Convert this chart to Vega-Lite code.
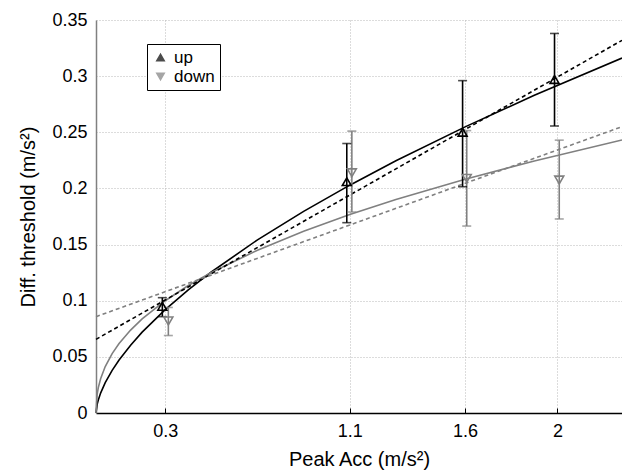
{
  "$schema": "https://vega.github.io/schema/vega-lite/v6.json",
  "width": 526,
  "height": 393,
  "autosize": "none",
  "padding": {"left": 96, "top": 20, "right": 0, "bottom": 63},
  "background": "white",
  "config": {
    "view": {"stroke": null},
    "font": "Liberation Sans",
    "axis": {
      "labelFont": "Liberation Sans",
      "titleFont": "Liberation Sans",
      "labelColor": "black",
      "titleColor": "black",
      "titleFontWeight": "normal",
      "gridColor": "#b8b8b8",
      "gridDash": [1, 2],
      "gridWidth": 1
    },
    "legend": {"labelFont": "Liberation Sans"}
  },
  "datasets": {
    "pts": [
      {"acc": 0.2875, "thr": 0.095, "lo": 0.0858, "hi": 0.1027, "dir": "up"},
      {"acc": 1.087, "thr": 0.206, "lo": 0.1695, "hi": 0.240, "dir": "up"},
      {"acc": 1.589, "thr": 0.250, "lo": 0.2015, "hi": 0.296, "dir": "up"},
      {"acc": 1.9875, "thr": 0.297, "lo": 0.2556, "hi": 0.338, "dir": "up"},
      {"acc": 0.3136, "thr": 0.082, "lo": 0.069, "hi": 0.094, "dir": "down"},
      {"acc": 1.109, "thr": 0.214, "lo": 0.179, "hi": 0.251, "dir": "down"},
      {"acc": 1.607, "thr": 0.209, "lo": 0.1665, "hi": 0.2515, "dir": "down"},
      {"acc": 2.008, "thr": 0.2075, "lo": 0.1728, "hi": 0.243, "dir": "down"}
    ],
    "fits": [
      {"fit": "up_pow", "acc": 0, "thr": 0},
      {"fit": "up_pow", "acc": 0.005, "thr": 0.00764},
      {"fit": "up_pow", "acc": 0.01, "thr": 0.01164},
      {"fit": "up_pow", "acc": 0.02, "thr": 0.01775},
      {"fit": "up_pow", "acc": 0.04, "thr": 0.02706},
      {"fit": "up_pow", "acc": 0.07, "thr": 0.03801},
      {"fit": "up_pow", "acc": 0.1, "thr": 0.04723},
      {"fit": "up_pow", "acc": 0.15, "thr": 0.06042},
      {"fit": "up_pow", "acc": 0.2, "thr": 0.07199},
      {"fit": "up_pow", "acc": 0.3, "thr": 0.09211},
      {"fit": "up_pow", "acc": 0.4, "thr": 0.1097},
      {"fit": "up_pow", "acc": 0.5, "thr": 0.1256},
      {"fit": "up_pow", "acc": 0.7, "thr": 0.1542},
      {"fit": "up_pow", "acc": 0.9, "thr": 0.1796},
      {"fit": "up_pow", "acc": 1.1, "thr": 0.2029},
      {"fit": "up_pow", "acc": 1.3, "thr": 0.2246},
      {"fit": "up_pow", "acc": 1.6, "thr": 0.2548},
      {"fit": "up_pow", "acc": 1.9, "thr": 0.2829},
      {"fit": "up_pow", "acc": 2.28, "thr": 0.3161},
      {"fit": "down_pow", "acc": 0, "thr": 0},
      {"fit": "down_pow", "acc": 0.005, "thr": 0.01665},
      {"fit": "down_pow", "acc": 0.01, "thr": 0.02256},
      {"fit": "down_pow", "acc": 0.02, "thr": 0.03055},
      {"fit": "down_pow", "acc": 0.04, "thr": 0.04139},
      {"fit": "down_pow", "acc": 0.07, "thr": 0.05289},
      {"fit": "down_pow", "acc": 0.1, "thr": 0.06182},
      {"fit": "down_pow", "acc": 0.15, "thr": 0.07385},
      {"fit": "down_pow", "acc": 0.2, "thr": 0.08378},
      {"fit": "down_pow", "acc": 0.3, "thr": 0.1000},
      {"fit": "down_pow", "acc": 0.4, "thr": 0.1135},
      {"fit": "down_pow", "acc": 0.5, "thr": 0.1251},
      {"fit": "down_pow", "acc": 0.7, "thr": 0.1450},
      {"fit": "down_pow", "acc": 0.9, "thr": 0.1619},
      {"fit": "down_pow", "acc": 1.1, "thr": 0.1767},
      {"fit": "down_pow", "acc": 1.3, "thr": 0.1901},
      {"fit": "down_pow", "acc": 1.6, "thr": 0.2082},
      {"fit": "down_pow", "acc": 1.9, "thr": 0.2245},
      {"fit": "down_pow", "acc": 2.28, "thr": 0.2432},
      {"fit": "up_lin", "acc": 0, "thr": 0.0656},
      {"fit": "up_lin", "acc": 2.28, "thr": 0.3319},
      {"fit": "down_lin", "acc": 0, "thr": 0.0858},
      {"fit": "down_lin", "acc": 2.28, "thr": 0.2550}
    ]
  },
  "encoding": {
    "x": {
      "field": "acc", "type": "quantitative",
      "scale": {"domain": [0, 2.28], "nice": false, "zero": false},
      "axis": {
        "title": "Peak Acc (m/s²)",
        "values": [0.3, 1.1, 1.6, 2],
        "format": "~g",
        "labelFontSize": 18,
        "titleFontSize": 20,
        "domainColor": "black",
        "domainWidth": 1.5,
        "tickColor": "black",
        "tickSize": -5,
        "labelPadding": 14,
        "titlePadding": 9,
        "grid": true
      }
    },
    "y": {
      "field": "thr", "type": "quantitative",
      "scale": {"domain": [0, 0.35], "nice": false},
      "axis": {
        "title": "Diff. threshold (m/s²)",
        "values": [0, 0.05, 0.1, 0.15, 0.2, 0.25, 0.3, 0.35],
        "format": "~g",
        "labelFontSize": 18,
        "titleFontSize": 20,
        "domainColor": "#808080",
        "domainWidth": 1.5,
        "ticks": false,
        "labelPadding": 9,
        "titlePadding": 13,
        "grid": true
      }
    }
  },
  "layer": [
    {
      "data": {"name": "fits"},
      "transform": [{"filter": "datum.fit == 'up_pow'"}],
      "mark": {"type": "line", "color": "black", "strokeWidth": 1.6}
    },
    {
      "data": {"name": "fits"},
      "transform": [{"filter": "datum.fit == 'down_pow'"}],
      "mark": {"type": "line", "color": "#808080", "strokeWidth": 1.6}
    },
    {
      "data": {"name": "fits"},
      "transform": [{"filter": "datum.fit == 'up_lin'"}],
      "mark": {"type": "line", "color": "black", "strokeWidth": 1.6, "strokeDash": [4, 3]}
    },
    {
      "data": {"name": "fits"},
      "transform": [{"filter": "datum.fit == 'down_lin'"}],
      "mark": {"type": "line", "color": "#808080", "strokeWidth": 1.6, "strokeDash": [4, 3]}
    },
    {
      "data": {"name": "pts"},
      "mark": {"type": "rule", "strokeWidth": 1.6},
      "encoding": {
        "y": {"field": "lo", "type": "quantitative"},
        "y2": {"field": "hi"},
        "color": {"field": "dir", "type": "nominal", "scale": {"domain": ["up", "down"], "range": ["black", "#808080"]}}
      }
    },
    {
      "data": {"name": "pts"},
      "mark": {"type": "tick", "orient": "horizontal", "size": 9, "thickness": 1.6},
      "encoding": {
        "y": {"field": "lo", "type": "quantitative"},
        "color": {"field": "dir", "type": "nominal"}
      }
    },
    {
      "data": {"name": "pts"},
      "mark": {"type": "tick", "orient": "horizontal", "size": 9, "thickness": 1.6},
      "encoding": {
        "y": {"field": "hi", "type": "quantitative"},
        "color": {"field": "dir", "type": "nominal"}
      }
    },
    {
      "data": {"name": "pts"},
      "mark": {"type": "point", "filled": false, "strokeWidth": 1.6, "size": 80, "opacity": 1},
      "encoding": {
        "color": {
          "field": "dir", "type": "nominal",
          "legend": {
            "title": null, "orient": "none", "legendX": 51, "legendY": 24,
            "strokeColor": "black", "fillColor": "white", "padding": 5,
            "labelFontSize": 17, "labelColor": "black", "symbolSize": 55,
            "symbolStrokeWidth": 1.5, "rowPadding": 1, "labelOffset": 5,
            "encode": {"symbols": {"update": {"fill": {"value": "transparent"}}}}
          }
        },
        "shape": {
          "field": "dir", "type": "nominal",
          "scale": {"domain": ["up", "down"], "range": ["triangle-up", "triangle-down"]},
          "legend": {
            "title": null, "orient": "none", "legendX": 51, "legendY": 24,
            "strokeColor": "black", "fillColor": "white", "padding": 5,
            "labelFontSize": 17, "labelColor": "black", "symbolSize": 55,
            "symbolStrokeWidth": 1.5, "rowPadding": 1, "labelOffset": 5,
            "encode": {"symbols": {"update": {"fill": {"value": "transparent"}}}}
          }
        }
      }
    }
  ]
}
